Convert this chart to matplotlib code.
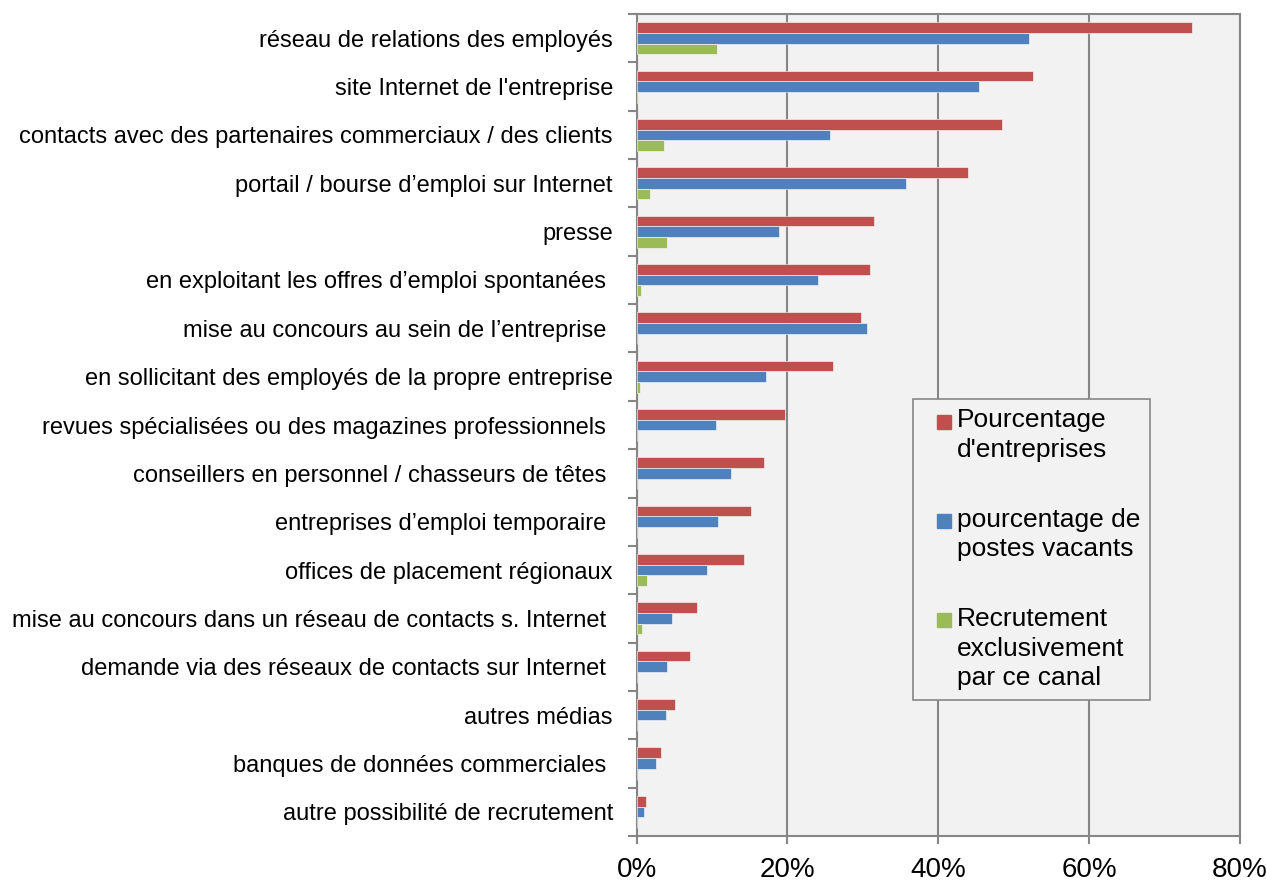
import matplotlib
matplotlib.use("Agg")
import matplotlib.pyplot as plt
import numpy as np
from matplotlib.patches import Rectangle
from matplotlib.legend_handler import HandlerPatch

categories = [
    "réseau de relations des employés",
    "site Internet de l'entreprise",
    "contacts avec des partenaires commerciaux / des clients",
    "portail / bourse d’emploi sur Internet",
    "presse",
    "en exploitant les offres d’emploi spontanées ",
    "mise au concours au sein de l’entreprise ",
    "en sollicitant des employés de la propre entreprise",
    "revues spécialisées ou des magazines professionnels ",
    "conseillers en personnel / chasseurs de têtes ",
    "entreprises d’emploi temporaire ",
    "offices de placement régionaux",
    "mise au concours dans un réseau de contacts s. Internet ",
    "demande via des réseaux de contacts sur Internet ",
    "autres médias",
    "banques de données commerciales ",
    "autre possibilité de recrutement",
]
entreprises = [73.6, 52.5, 48.4, 43.9, 31.5, 30.9, 29.7, 26.0, 19.7, 16.9,
               15.2, 14.2, 8.0, 7.1, 5.1, 3.25, 1.26]
postes = [52.0, 45.4, 25.7, 35.7, 18.9, 24.0, 30.6, 17.1, 10.5, 12.5,
          10.8, 9.35, 4.7, 4.1, 3.9, 2.6, 0.95]
exclusif = [10.7, 0.25, 3.7, 1.8, 4.1, 0.6, 0.0, 0.4, 0.0, 0.0,
            0.1, 1.4, 0.7, 0.0, 0.0, 0.0, 0.0]
series_labels = ["Pourcentage\nd'entreprises",
                 "pourcentage de\npostes vacants",
                 "Recrutement\nexclusivement\npar ce canal"]
colors = ["#C0504D", "#4F81BD", "#9BBB59"]

plt.rcParams["font.family"] = ["Liberation Sans", "DejaVu Sans"]

fig = plt.figure(figsize=(12.67, 8.86), dpi=100)
ax = fig.add_axes([0.5024, 0.0564, 0.4763, 0.9278])
ax.set_facecolor("#F2F2F2")

y = np.arange(len(categories))
h = 0.221
for k, (vals, col) in enumerate(zip([entreprises, postes, exclusif], colors)):
    ax.barh(y + (k - 1) * h, vals, height=h, color=col,
            edgecolor="white", linewidth=0.4, zorder=3)

ax.set_xlim(0, 80)
ax.set_ylim(len(categories) - 0.5, -0.5)
ax.set_xticks([0, 20, 40, 60, 80])
ax.set_xticklabels([f"{v}%" for v in [0, 20, 40, 60, 80]], fontsize=20)
ax.grid(axis="x", color="#868686", linewidth=1.5, zorder=1)

ax.set_yticks(y)
ax.set_yticklabels(categories, fontsize=17)
ax.set_yticks(np.arange(len(categories) + 1) - 0.5, minor=True)
ax.tick_params(axis="y", which="major", length=0, pad=17)
ax.tick_params(axis="y", which="minor", length=6.5, width=1.5, color="#868686")
ax.tick_params(axis="x", length=6, width=1.5, color="#868686", pad=9)
for s in ax.spines.values():
    s.set_color("#868686")
    s.set_linewidth(1.5)

leg_fs = 19
line_pitch = 30 * 72 / 100  # points between lines inside a label


def make_handler(nlines):
    def square(legend, orig_handle, xdescent, ydescent, width, height, fontsize):
        shift = (nlines - 1) / 2 * line_pitch
        return Rectangle((width - 10, height / 2 - 5 + shift - 1), 10, 10)
    return HandlerPatch(patch_func=square)


handles = [Rectangle((0, 0), 1, 1, color=c) for c in colors]
hmap = {hd: make_handler(lab.count("\n") + 1) for hd, lab in zip(handles, series_labels)}
leg = ax.legend(handles, series_labels, loc="upper left",
                bbox_to_anchor=(0.458, 0.5316), borderaxespad=0, fontsize=leg_fs,
                frameon=True, fancybox=False, edgecolor="#868686",
                facecolor="#F2F2F2", framealpha=1, borderpad=0.35,
                labelspacing=1.73, handlelength=1.1, handletextpad=0.23,
                handler_map=hmap)
leg.get_frame().set_linewidth(1.2)
for t in leg.get_texts():
    t.set_linespacing(1.3)

fig.savefig("out.png", dpi=100)
